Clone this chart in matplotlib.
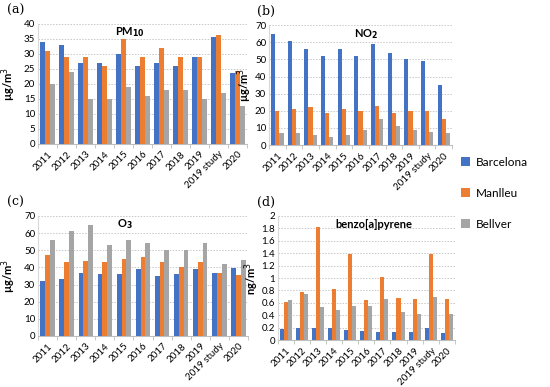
import numpy as np
import matplotlib
matplotlib.use("Agg")
import matplotlib.pyplot as plt

plt.rcParams.update({
    "font.family": ["Lato", "DejaVu Sans"],
    "font.size": 7,
})

years = ["2011", "2012", "2013", "2014", "2015", "2016", "2017", "2018",
         "2019", "2019 study", "2020"]
stations = ["Barcelona", "Manlleu", "Bellver"]
colors = ["#4472C4", "#ED7D31", "#A5A5A5"]

pm10_bcn = [34, 33, 27, 27, 30, 26, 27, 26, 29, 35.8, 23.6]
pm10_man = [31, 29, 29, 26, 35, 29, 32, 29, 29, 36.3, 24.3]
pm10_bel = [20, 24, 15, 15, 19, 16, 18, 18, 15, 16.9, 12.7]

no2_bcn = [65, 61, 56, 52, 56, 52, 59, 54, 50, 49, 35]
no2_man = [20, 21, 22, 19, 21, 20, 23, 19, 20, 20, 15]
no2_bel = [7, 7, 6, 5, 6, 9, 15, 11, 9, 7.5, 7]

o3_bcn = [32, 33, 37, 36, 36, 39, 35, 36, 39, 36.5, 39.5]
o3_man = [47, 43, 44, 43, 45, 46, 43, 40, 43, 36.5, 35.3]
o3_bel = [56, 61, 65, 53, 56, 54, 50, 50, 54, 42, 44.5]

bap_bcn = [0.18, 0.20, 0.19, 0.19, 0.17, 0.15, 0.13, 0.13, 0.13, 0.20, 0.12]
bap_man = [0.62, 0.77, 1.82, 0.83, 1.38, 0.64, 1.02, 0.68, 0.66, 1.38, 0.66]
bap_bel = [0.65, 0.75, 0.53, 0.48, 0.55, 0.55, 0.66, 0.45, 0.42, 0.69, 0.42]

# label, title, unit, data, ymax, step, axes rect, title pos, panel-label x, ylabel gap (px)
panels = [
    ("(a)", "PM$_\\mathbf{10}$", "µg/m$^3$", (pm10_bcn, pm10_man, pm10_bel),
     40, 5, [0.069, 0.628, 0.38, 0.31], (0.44, 0.935), 0.012, 20),
    ("(b)", "NO$_\\mathbf{2}$", "µg/m$^3$", (no2_bcn, no2_man, no2_bel),
     70, 10, [0.489, 0.625, 0.333, 0.31], (0.53, 0.925), 0.467, 15),
    ("(c)", "O$_\\mathbf{3}$", "µg/m$^3$", (o3_bcn, o3_man, o3_bel),
     70, 10, [0.069, 0.132, 0.382, 0.31], (0.415, 0.93), 0.012, 20),
    ("(d)", "benzo[a]pyrene", "ng/m$^3$", (bap_bcn, bap_man, bap_bel),
     2, 0.2, [0.505, 0.121, 0.322, 0.321], (0.54, 0.935), 0.467, 17),
]

fig = plt.figure(figsize=(5.5, 3.87), dpi=100)
x = np.arange(len(years))
w = 0.25

for label, title, unit, series, ymax, step, pos, tpos, lx, gap in panels:
    ax = fig.add_axes(pos)
    for i, (vals, col, name) in enumerate(zip(series, colors, stations)):
        ax.bar(x + (i - 1) * w, vals, w, color=col, label=name, zorder=3)
    ax.set_xlim(-0.5, len(years) - 0.5)
    ax.set_ylim(0, ymax)
    yt = np.arange(0, ymax + step / 2, step)
    ax.set_yticks(yt)
    ax.set_yticklabels([f"{v:g}" for v in yt])
    ax.set_xticks(x)
    ax.set_xticklabels(years, rotation=45, ha="right", rotation_mode="anchor")
    ax.set_xticks(np.arange(-0.5, len(years)), minor=True)
    ax.tick_params(axis="x", which="major", length=0, pad=4)
    ax.tick_params(axis="x", which="minor", length=3, color="#BFBFBF")
    ax.tick_params(axis="y", length=0, pad=2)
    ax.yaxis.grid(True, linestyle=(0, (1.5, 1.5)), color="#C8C8C8", lw=0.7, zorder=0)
    for s in ["top", "right"]:
        ax.spines[s].set_visible(False)
    ax.spines["left"].set_color("#D9D9D9")
    ax.spines["bottom"].set_color("#BFBFBF")
    ax.set_ylabel(unit, fontweight="bold", fontsize=8)
    ax.yaxis.set_label_coords(-gap / (pos[2] * 550), 0.5)
    ax.text(tpos[0], tpos[1], title, transform=ax.transAxes, ha="center",
            va="center", fontweight="bold", fontsize=8, zorder=5)
    fig.text(lx, pos[1] + pos[3] + 0.035, label,
             family="DejaVu Serif", fontsize=9, va="center")
    if label == "(b)":
        handles, labels = ax.get_legend_handles_labels()

fig.legend(handles, labels, loc="center left", bbox_to_anchor=(0.818, 0.5),
           frameon=False, fontsize=8.5, handlelength=0.8, handleheight=0.8,
           labelspacing=1.7, handletextpad=0.5)

fig.savefig("out.png", dpi=100)
